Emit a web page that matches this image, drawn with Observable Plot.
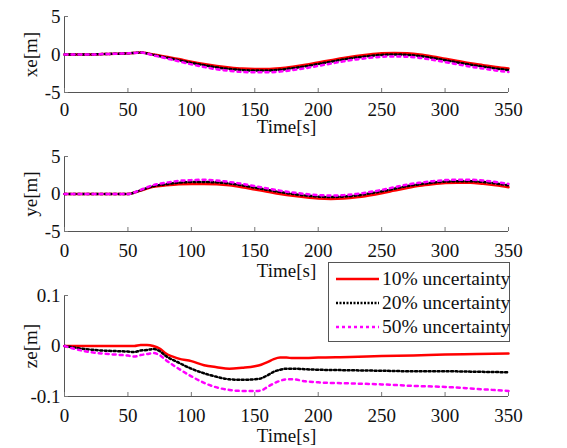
<!DOCTYPE html>
<html>
<head>
<meta charset="utf-8">
<script src="https://cdn.jsdelivr.net/npm/d3@7"></script>
<script src="https://cdn.jsdelivr.net/npm/@observablehq/plot@0.6"></script>
<style>
  html, body { margin: 0; padding: 0; background: white; }
  #fig { position: relative; width: 567px; height: 448px; overflow: hidden; background: white; }
  .panel { position: absolute; left: 0; }
  #legend {
    position: absolute; left: 328px; top: 262px; width: 182px; height: 80px;
    border: 1px solid #555; background: white; box-sizing: border-box;
    font-family: "Liberation Serif", "Times New Roman", serif; font-size: 19.5px; color: #111;
  }
  .row { position: absolute; left: 6px; height: 22px; display: flex; align-items: center; white-space: nowrap; }
  .row svg { margin-right: 2px; }
</style>
</head>
<body>
<div id="fig"></div>
<script>
// ---- data ----
const seriesNames = ["10% uncertainty", "20% uncertainty", "50% uncertainty"];
const xTicks = [0, 50, 100, 150, 200, 250, 300, 350];

const tXY = [0,10,20,30,40,50,60,70,80,90,100,110,120,130,140,150,160,170,180,190,200,210,220,230,240,250,260,270,280,290,300,310,320,330,340,350];

const xe10 = [0,0,0,0.05,0.1,0.15,0.25,0,-0.3,-0.6,-0.95,-1.25,-1.5,-1.7,-1.85,-1.9,-1.9,-1.8,-1.6,-1.35,-1.05,-0.75,-0.45,-0.2,0,0.15,0.2,0.15,0,-0.25,-0.55,-0.85,-1.15,-1.4,-1.65,-1.85];
const xe20 = [0,0,0,0.05,0.1,0.15,0.25,-0.05,-0.4,-0.75,-1.1,-1.4,-1.7,-1.9,-2.05,-2.1,-2.1,-2.0,-1.8,-1.55,-1.25,-0.95,-0.65,-0.4,-0.2,-0.05,0,-0.05,-0.2,-0.45,-0.75,-1.05,-1.35,-1.6,-1.85,-2.05];
const xe50 = [0,0,0,0.05,0.1,0.15,0.25,-0.1,-0.5,-0.9,-1.3,-1.65,-1.95,-2.15,-2.3,-2.35,-2.35,-2.25,-2.05,-1.8,-1.5,-1.2,-0.9,-0.65,-0.45,-0.3,-0.25,-0.3,-0.45,-0.7,-1.0,-1.3,-1.6,-1.85,-2.1,-2.3];

const ye10 = [0,0,0,0,0,0,0.45,0.95,1.15,1.3,1.35,1.35,1.3,1.15,0.9,0.6,0.3,0.0,-0.25,-0.45,-0.6,-0.65,-0.6,-0.45,-0.2,0.1,0.45,0.8,1.1,1.3,1.45,1.5,1.5,1.35,1.15,0.9];
const ye20 = [0,0,0,0,0,0,0.5,1.05,1.3,1.5,1.6,1.6,1.55,1.4,1.15,0.85,0.55,0.25,0.0,-0.2,-0.35,-0.4,-0.35,-0.2,0.05,0.35,0.7,1.05,1.3,1.5,1.65,1.7,1.7,1.6,1.4,1.15];
const ye50 = [0,0,0,0,0,0,0.55,1.2,1.5,1.75,1.85,1.9,1.8,1.6,1.35,1.05,0.75,0.45,0.2,0.0,-0.15,-0.2,-0.15,0.0,0.25,0.55,0.9,1.25,1.5,1.7,1.85,1.9,1.9,1.8,1.6,1.35];

const tZ = [0,10,20,30,40,50,55,60,65,70,75,80,90,100,110,120,130,140,150,155,160,165,170,175,180,190,200,225,250,275,300,325,350];
const ze10 = [0,0,0,0,0,0,0,0.002,0.002,0,-0.005,-0.015,-0.025,-0.03,-0.038,-0.042,-0.045,-0.043,-0.04,-0.037,-0.032,-0.026,-0.023,-0.023,-0.024,-0.024,-0.023,-0.022,-0.02,-0.019,-0.017,-0.016,-0.015];
const ze20 = [0,-0.004,-0.007,-0.009,-0.01,-0.011,-0.012,-0.009,-0.008,-0.006,-0.01,-0.02,-0.033,-0.045,-0.054,-0.061,-0.066,-0.067,-0.066,-0.064,-0.058,-0.051,-0.047,-0.045,-0.045,-0.046,-0.047,-0.048,-0.049,-0.05,-0.05,-0.051,-0.052];
const ze50 = [0,-0.007,-0.012,-0.015,-0.017,-0.019,-0.021,-0.018,-0.016,-0.014,-0.018,-0.028,-0.045,-0.06,-0.073,-0.082,-0.087,-0.089,-0.089,-0.088,-0.081,-0.074,-0.069,-0.066,-0.066,-0.07,-0.072,-0.074,-0.076,-0.079,-0.081,-0.085,-0.089];

// ---- styles ----
const lineStyles = [
  {stroke: "#ff0000", strokeWidth: 2.5, strokeDasharray: null, legendDash: null},
  {stroke: "#000000", strokeWidth: 2.5, strokeDasharray: "2,2.5", legendDash: "2,1.5"},
  {stroke: "#ff00ff", strokeWidth: 2.5, strokeDasharray: "3,4", legendDash: "3,3"}
];

const fig = document.getElementById("fig");
const fmt = d => String(d);
const FONT = '"Liberation Serif", "Times New Roman", serif';

function panel({top, height, mt, mb, yDomain, yTicks, yLabel, tickPad, labelOffset, t, values}) {
  const marks = [];
  // axis lines
  marks.push(Plot.ruleX([0], {stroke: "#555", strokeWidth: 1}));
  marks.push(Plot.ruleY([yDomain[0]], {stroke: "#555", strokeWidth: 1}));
  // inward ticks
  marks.push(Plot.axisX({ticks: xTicks, tickSize: -4, tickFormat: () => "", stroke: "#777", label: null}));
  marks.push(Plot.axisY({ticks: yTicks, tickSize: -4, tickFormat: () => "", stroke: "#777", label: null}));
  // tick labels
  marks.push(Plot.axisX({ticks: xTicks, tickSize: 0, tickPadding: tickPad, tickFormat: fmt, fill: "#111", label: null}));
  marks.push(Plot.axisY({ticks: yTicks, tickSize: 0, tickPadding: 4, tickFormat: fmt, fill: "#111", label: null}));
  // lines
  values.forEach((vals, i) => {
    const data = t.map((tt, j) => ({t: tt, v: vals[j]}));
    const s = lineStyles[i];
    const opts = {x: "t", y: "v", stroke: s.stroke, strokeWidth: s.strokeWidth, curve: "monotone-x"};
    if (s.strokeDasharray) opts.strokeDasharray = s.strokeDasharray;
    marks.push(Plot.line(data, opts));
  });
  // axis titles
  marks.push(Plot.text(["Time[s]"], {frameAnchor: "bottom", lineAnchor: "middle", text: d => d, dy: labelOffset, fill: "#111"}));
  marks.push(Plot.text([yLabel], {frameAnchor: "left", textAnchor: "middle", lineAnchor: "middle", text: d => d, rotate: -90, dx: -34, fill: "#111"}));

  const svg = Plot.plot({
    width: 567, height,
    marginLeft: 64, marginRight: 59, marginTop: mt, marginBottom: mb,
    x: {domain: [0, 350]},
    y: {domain: yDomain},
    style: {fontFamily: FONT, fontSize: "19px", background: "transparent", color: "#111", overflow: "visible"},
    marks
  });
  const wrap = document.createElement("div");
  wrap.className = "panel";
  wrap.style.top = top + "px";
  wrap.appendChild(svg);
  fig.appendChild(wrap);
}

panel({top: 0, height: 135, mt: 16, mb: 43, yDomain: [-5, 5], yTicks: [-5, 0, 5], yLabel: "xe[m]", tickPad: 10, labelOffset: 34, t: tXY, values: [xe10, xe20, xe50]});
panel({top: 140, height: 140, mt: 16, mb: 49, yDomain: [-5, 5], yTicks: [-5, 0, 5], yLabel: "ye[m]", tickPad: 12, labelOffset: 39, t: tXY, values: [ye10, ye20, ye50]});
panel({top: 280, height: 168, mt: 15, mb: 52, yDomain: [-0.1, 0.1], yTicks: [-0.1, 0, 0.1], yLabel: "ze[m]", tickPad: 12, labelOffset: 39, t: tZ, values: [ze10, ze20, ze50]});

// legend
const legend = document.createElement("div");
legend.id = "legend";
const rowTops = [5, 29, 53];
seriesNames.forEach((name, i) => {
  const row = document.createElement("div");
  row.className = "row";
  row.style.top = rowTops[i] + "px";
  const s = lineStyles[i];
  const ls = d3.create("svg").attr("width", 45).attr("height", 10);
  ls.append("line").attr("x1", 1).attr("x2", 44).attr("y1", 5).attr("y2", 5)
    .attr("stroke", s.stroke).attr("stroke-width", s.strokeWidth)
    .attr("stroke-dasharray", s.legendDash);
  row.appendChild(ls.node());
  const span = document.createElement("span");
  span.textContent = name;
  row.appendChild(span);
  legend.appendChild(row);
});
fig.appendChild(legend);
</script>
</body>
</html>
